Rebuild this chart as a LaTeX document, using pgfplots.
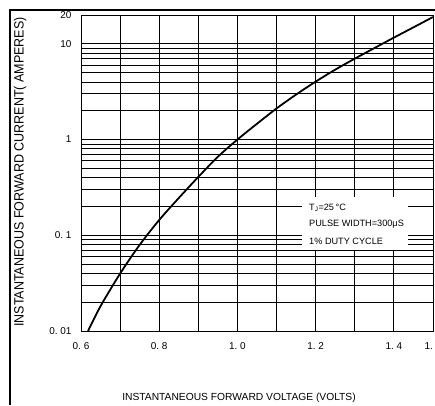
\documentclass[border=0pt]{standalone}
\usepackage{pgfplots}
\pgfplotsset{compat=1.18}
\usepackage{fontspec}
\setmainfont{Liberation Sans}
\begin{document}
\begin{tikzpicture}[x=1bp,y=1bp]
\useasboundingbox (0,0) rectangle (435,405);
% scanned outer frame
\draw[line width=2.2bp] (10,0) -- (10,395) -- (435,395);
\begin{axis}[
    at={(81bp,74bp)}, anchor=south west,
    scale only axis, width=352bp, height=316bp,
    xmin=0.6, xmax=1.5,
    ymode=log, ymin=0.01, ymax=20,
    xtick={0.6,0.7,0.8,0.9,1.0,1.1,1.2,1.3,1.4,1.5},
    xticklabels={0.\ 6,,0.\ 8,,1.\ 0,,1.\ 2,,1.\ 4,1.\ 5},
    ytick={0.01,0.1,1,10,20},
    yticklabels={0.\ 01,0.\ 1,1,10,20},
    minor ytick={0.02,0.03,0.04,0.05,0.06,0.07,0.08,0.09,
                 0.2,0.3,0.4,0.5,0.6,0.7,0.8,0.9,
                 2,3,4,5,6,7,8,9},
    grid=both,
    major grid style={black, line width=0.85bp},
    minor grid style={black, line width=0.75bp},
    major tick length=0pt, minor tick length=0pt,
    axis line style={black, line width=0.9bp},
    tick label style={font=\fontsize{10}{11}\selectfont},
    xticklabel style={yshift=-8bp},
    yticklabel style={xshift=-6bp},
    xlabel={\fontsize{10.3}{12}\selectfont INSTANTANEOUS FORWARD VOLTAGE (VOLTS)},
    xlabel style={at={(rel axis cs:0.449,-0.212)}, anchor=center},
    ylabel={\scalebox{0.93}[1]{\fontsize{13.5}{15}\selectfont INSTANTANEOUS FORWARD CURRENT( AMPERES)}},
    ylabel style={at={(rel axis cs:-0.173,0.503)}, anchor=center, rotate=0},
]
\addplot[black, line width=1.8bp, smooth] coordinates {
    (0.618,0.0100) (0.65,0.0182) (0.7,0.0398) (0.75,0.0794) (0.8,0.1445)
    (0.85,0.245) (0.9,0.407) (0.95,0.661) (1.0,1.0) (1.05,1.462)
    (1.1,2.113) (1.15,2.951) (1.2,4.027) (1.25,5.370) (1.3,6.998)
    (1.35,9.016) (1.4,11.61) (1.45,14.86) (1.5,19.05)
};
\fill[white] (axis cs:1.165,0.070) rectangle (axis cs:1.436,0.251);
\begin{scope}[every node/.style={anchor=west, inner sep=0pt, font=\fontsize{9.2}{10}\selectfont}]
\node at (axis cs:1.183,0.193) {T\textsubscript{J}=25\,°C};
\node at (axis cs:1.183,0.131) {PULSE WIDTH=300μS};
\node at (axis cs:1.183,0.087) {1\% DUTY CYCLE};
\end{scope}
\end{axis}
\end{tikzpicture}
\end{document}
